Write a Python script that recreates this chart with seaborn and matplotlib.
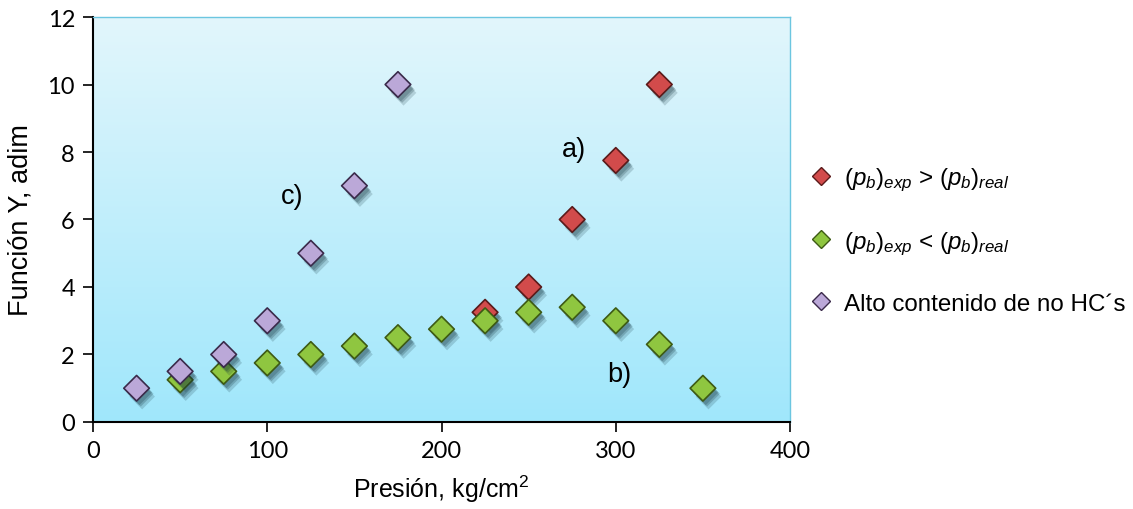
import numpy as np
import pandas as pd
import matplotlib
matplotlib.use("Agg")
import matplotlib.pyplot as plt
import matplotlib.patheffects as pe
from matplotlib.colors import LinearSegmentedColormap
import seaborn as sns

# Data
red_x = [225, 250, 275, 300, 325]
red_y = [3.25, 4.0, 6.0, 7.75, 10.0]
green_x = [50, 75, 100, 125, 150, 175, 200, 225, 250, 275, 300, 325, 350]
green_y = [1.25, 1.5, 1.75, 2.0, 2.25, 2.5, 2.75, 3.0, 3.25, 3.4, 3.0, 2.3, 1.0]
purple_x = [25, 50, 75, 100, 125, 150, 175]
purple_y = [1.0, 1.5, 2.0, 3.0, 5.0, 7.0, 10.0]
labels = [r"$(p_b)_{exp}$ > $(p_b)_{real}$",
          r"$(p_b)_{exp}$ < $(p_b)_{real}$",
          "Alto contenido de no HC´s"]
x_ticks = [0, 100, 200, 300, 400]
y_ticks = [0, 2, 4, 6, 8, 10, 12]

sns.set_theme(style="white")
plt.rcParams['font.family'] = ['Liberation Sans', 'DejaVu Sans']
plt.rcParams['mathtext.fontset'] = 'custom'
plt.rcParams['mathtext.rm'] = 'Liberation Sans'
plt.rcParams['mathtext.it'] = 'Liberation Sans:italic'
for k in ['text.color', 'axes.labelcolor', 'xtick.color', 'ytick.color']:
    plt.rcParams[k] = 'black'

df = pd.concat([
    pd.DataFrame({"x": red_x, "y": red_y, "s": labels[0]}),
    pd.DataFrame({"x": green_x, "y": green_y, "s": labels[1]}),
    pd.DataFrame({"x": purple_x, "y": purple_y, "s": labels[2]}),
])
palette = {labels[0]: "#d24b4b", labels[1]: "#8fc640", labels[2]: "#bba8d8"}
edges = {labels[0]: "#5a1a1a", labels[1]: "#3d5a14", labels[2]: "#3a2a4a"}

fig = plt.figure(figsize=(11.33, 5.10), dpi=100)
ax = fig.add_axes([0.0821, 0.1706, 0.6152, 0.7941])

# gradient background
grad = np.linspace(0, 1, 256).reshape(-1, 1)
cmap = LinearSegmentedColormap.from_list("bg", ["#e2f6fc", "#a0e7fb"])
ax.imshow(grad, extent=[0, 1, 0, 1], transform=ax.transAxes, aspect='auto',
          cmap=cmap, zorder=0)
ax.set_facecolor("none")

shadow = [pe.SimplePatchShadow(offset=(2, -3), shadow_rgbFace="#10303a", alpha=0.22),
          pe.SimplePatchShadow(offset=(3, -4), shadow_rgbFace="#10303a", alpha=0.22),
          pe.SimplePatchShadow(offset=(4, -6), shadow_rgbFace="#10303a", alpha=0.18),
          pe.Normal()]
for lab in labels:
    sub = df[df.s == lab]
    sns.scatterplot(data=sub, x="x", y="y", marker="D", s=170, color=palette[lab],
                    edgecolor=edges[lab], linewidth=1.2, ax=ax, zorder=3, legend=False)
for coll in ax.collections:
    coll.set_path_effects(shadow)

ax.set_xlim(0, 400)
ax.set_ylim(0, 12)
ax.set_xticks(x_ticks)
ax.set_yticks(y_ticks)
ax.tick_params(axis='both', which='major', labelsize=17, direction='out', length=7,
               width=1.2, color='black', left=True, bottom=True, pad=6)
for lbl in ax.get_xticklabels() + ax.get_yticklabels():
    lbl.set_fontfamily(['Lato', 'DejaVu Sans'])
for side in ['left', 'bottom']:
    ax.spines[side].set_color('black')
    ax.spines[side].set_linewidth(1.5)
for side in ['top', 'right']:
    ax.spines[side].set_color('#6cc6e0')
    ax.spines[side].set_linewidth(1.0)

ax.set_xlabel(r"Presión, kg/cm$^2$", fontsize=18, labelpad=8)
ax.set_ylabel("Función Y, adim", fontsize=19.5, labelpad=10)

ax.text(276, 8.1, "a)", fontsize=19.5, ha='center', va='center')
ax.text(114, 6.7, "c)", fontsize=19.5, ha='center', va='center')
ax.text(302, 1.42, "b)", fontsize=19.5, ha='center', va='center')

handles = [plt.Line2D([], [], marker='D', linestyle='none', markersize=9,
                      markerfacecolor=palette[l], markeredgecolor=edges[l], markeredgewidth=1)
           for l in labels]
fig.legend(handles, labels, loc='center left', bbox_to_anchor=(0.695, 0.527),
           frameon=False, fontsize=17.4, labelspacing=1.5, handletextpad=0.45, handlelength=1.0)

fig.savefig("out.png", dpi=100)
